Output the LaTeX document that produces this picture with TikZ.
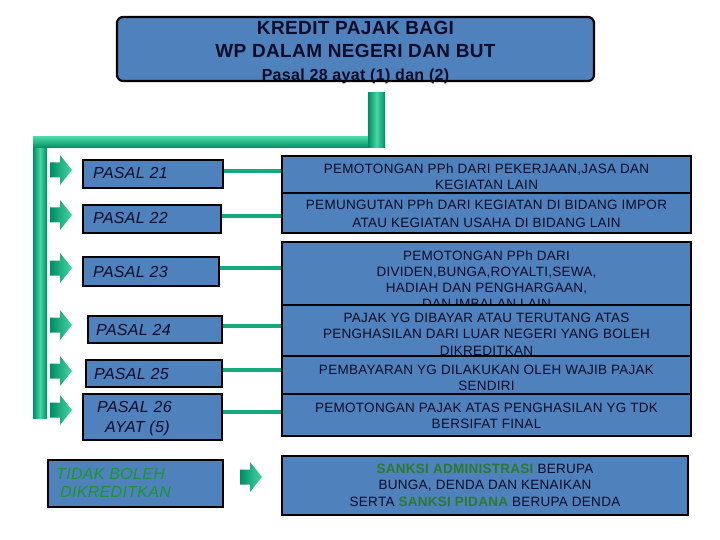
\documentclass[tikz,border=0pt]{standalone}
\usepackage{fontspec}
\setmainfont{Liberation Sans}[LetterSpace=2]
\definecolor{boxblue}{RGB}{79,129,189}
\definecolor{ink}{RGB}{12,12,40}
\definecolor{gdark}{RGB}{0,140,100}
\definecolor{glight}{RGB}{70,215,165}
\definecolor{gmid}{RGB}{20,170,125}
\definecolor{tgreen}{RGB}{25,150,45}
\definecolor{bgreen}{RGB}{45,120,45}
\tikzset{
  bx/.style={draw=black, line width=2.2pt, fill=boxblue, inner sep=0pt, outer sep=0pt},
  rt/.style={anchor=base, inner sep=0pt, text=ink, font=\fontsize{13.5}{16}\selectfont},
  lt/.style={anchor=base west, inner sep=0pt, text=ink, font=\fontsize{16}{18}\selectfont\itshape},
  tt/.style={anchor=base, inner sep=0pt, text=ink, font=\fontsize{19}{22}\selectfont\bfseries},
  conn/.style={draw=gmid, line width=4.2pt},
  gshade/.style={left color=gdark, right color=glight}
}
\begin{document}
\begin{tikzpicture}[x=1pt,y=-1pt]
\fill[white] (0,0) rectangle (720,540);
\useasboundingbox (0,0) rectangle (720,540);
% green bars
\shade[left color=gdark, right color=gdark, middle color=glight] (33,137) rectangle (47,418);
\shade[top color=glight, bottom color=gdark] (33,137) rectangle (385,148);
\shade[left color=gdark, right color=gdark, middle color=glight] (368,93) rectangle (385,148);
% block arrows
\foreach \xx/\yy in {50/170, 50/215, 50/268, 50/325, 50/371, 50/410, 240/477}{
  \shade[gshade] ({\xx},{\yy-7.5}) -- ({\xx+10},{\yy-7.5}) -- ({\xx+10},{\yy-15})
    -- ({\xx+22},{\yy}) -- ({\xx+10},{\yy+15}) -- ({\xx+10},{\yy+7.5}) -- ({\xx},{\yy+7.5}) -- cycle;
}
% title
\node[bx, rounded corners=6pt, minimum width=477pt, minimum height=64pt] (title) at (355.5,49) {};
\node[tt] (t1) at (355.5,35) {KREDIT PAJAK BAGI};
\node[tt] (t2) at (355.5,58) {WP DALAM NEGERI DAN BUT};
\node[tt, font=\fontsize{16}{18}\selectfont\bfseries] (t3) at (355.5,81) {Pasal 28 ayat (1) dan (2)};
% right boxes
\node[bx, minimum width=409pt, minimum height=37pt] (A) at (486.5,174.5) {};
\node[rt] (a1) at (486.5,173.3) {PEMOTONGAN PPh DARI PEKERJAAN,JASA DAN};
\node[rt] (a2) at (486.5,189.5) {KEGIATAN LAIN};
\node[bx, minimum width=409pt, minimum height=40pt] (B) at (486.5,213) {};
\node[rt] (b1) at (486.5,210) {PEMUNGUTAN PPh DARI KEGIATAN DI BIDANG IMPOR};
\node[rt] (b2) at (486.5,227) {ATAU KEGIATAN USAHA DI BIDANG LAIN};
\node[bx, minimum width=409pt, minimum height=63pt] (C) at (486.5,273.5) {};
\node[rt] (c1) at (486.5,260) {PEMOTONGAN PPh DARI};
\node[rt] (c2) at (486.5,276) {DIVIDEN,BUNGA,ROYALTI,SEWA,};
\node[rt] (c3) at (486.5,292.3) {HADIAH DAN PENGHARGAAN,};
\node[rt] (c4) at (486.5,308.6) {DAN IMBALAN LAIN};
\node[bx, minimum width=409pt, minimum height=51pt] (D) at (486.5,330.5) {};
\node[rt] (d1) at (486.5,322) {PAJAK YG DIBAYAR ATAU TERUTANG ATAS};
\node[rt] (d2) at (486.5,338.5) {PENGHASILAN DARI LUAR NEGERI YANG BOLEH};
\node[rt] (d3) at (486.5,355) {DIKREDITKAN};
\node[bx, minimum width=409pt, minimum height=38pt] (E) at (486.5,375) {};
\node[rt] (e1) at (486.5,374) {PEMBAYARAN YG DILAKUKAN OLEH WAJIB PAJAK};
\node[rt] (e2) at (486.5,390) {SENDIRI};
\node[bx, minimum width=409pt, minimum height=42pt] (F) at (486.5,415) {};
\node[rt] (f1) at (486.5,412) {PEMOTONGAN PAJAK ATAS PENGHASILAN YG TDK};
\node[rt] (f2) at (486.5,428) {BERSIFAT FINAL};
\node[bx, minimum width=406pt, minimum height=59pt] (G) at (485,485.5) {};
\node[rt] (g1) at (485,473) {\textcolor{bgreen}{\bfseries SANKSI ADMINISTRASI} BERUPA};
\node[rt] (g2) at (485,489.5) {BUNGA, DENDA DAN KENAIKAN};
\node[rt] (g3) at (485,506) {SERTA \textcolor{bgreen}{\bfseries SANKSI PIDANA} BERUPA DENDA};
% left boxes
\node[bx, minimum width=140pt, minimum height=28pt] (p21) at (153,174) {};
\node[lt] (l21) at (93,179) {PASAL 21};
\node[bx, minimum width=138pt, minimum height=28pt] (p22) at (152,219) {};
\node[lt] (l22) at (93,224) {PASAL 22};
\node[bx, minimum width=136pt, minimum height=29pt] (p23) at (151,271.5) {};
\node[lt] (l23) at (93,277) {PASAL 23};
\node[bx, minimum width=134pt, minimum height=27pt] (p24) at (155,329.5) {};
\node[lt] (l24) at (96,335) {PASAL 24};
\node[bx, minimum width=136pt, minimum height=27pt] (p25) at (154,373.5) {};
\node[lt] (l25) at (94,379) {PASAL 25};
\node[bx, minimum width=139pt, minimum height=46pt] (p26) at (152.5,417) {};
\node[lt] (l26a) at (97,412) {PASAL 26};
\node[lt] (l26b) at (105,432) {AYAT (5)};
\node[bx, minimum width=175pt, minimum height=47pt] (tb) at (135.5,483.5) {};
\node[lt, text=tgreen] (tb1) at (56,479) {TIDAK BOLEH};
\node[lt, text=tgreen] (tb2) at (60,497) {DIKREDITKAN};
% connectors
\coordinate (c21) at ([yshift=3pt]p21.east);
\coordinate (c22) at ([yshift=3pt]p22.east);
\coordinate (c23) at ([yshift=3.5pt]p23.east);
\coordinate (c24) at ([yshift=3.5pt]p24.east);
\coordinate (c25) at ([yshift=3.5pt]p25.east);
\coordinate (c26) at ([yshift=5pt]p26.east);
\draw[conn] ([xshift=1.1pt]c21) -- ([xshift=-1.1pt]c21 -| A.west);
\draw[conn] ([xshift=1.1pt]c22) -- ([xshift=-1.1pt]c22 -| B.west);
\draw[conn] ([xshift=1.1pt]c23) -- ([xshift=-1.1pt]c23 -| C.west);
\draw[conn] ([xshift=1.1pt]c24) -- ([xshift=-1.1pt]c24 -| D.west);
\draw[conn] ([xshift=1.1pt]c25) -- ([xshift=-1.1pt]c25 -| E.west);
\draw[conn] ([xshift=1.1pt]c26) -- ([xshift=-1.1pt]c26 -| F.west);
\end{tikzpicture}
\end{document}
